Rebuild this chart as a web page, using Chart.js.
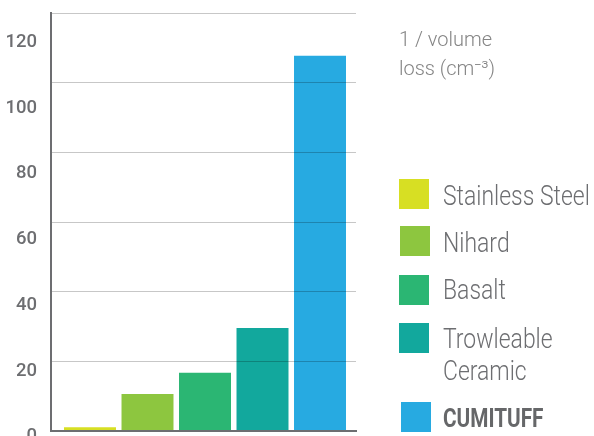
<!DOCTYPE html>
<html><head><meta charset="utf-8">
<script src="https://cdn.jsdelivr.net/npm/chart.js@4"></script>
<style>
html,body{margin:0;padding:0;background:#fff;}
#wrap{position:relative;width:594px;height:436px;overflow:hidden;}
#c{position:absolute;left:0;top:0;}
.t{position:absolute;white-space:nowrap;font-family:Roboto,'DejaVu Sans',sans-serif;transform-origin:0 0;}
.box{position:absolute;width:30px;height:30px;}
</style></head><body>
<div id="wrap"><canvas id="c" width="594" height="436"></canvas><div id="legend"></div></div>
<script>
// ---- data ----
const categories = ['Stainless Steel', 'Nihard', 'Basalt', 'Trowleable\nCeramic', 'CUMITUFF'];
const values = [1.1, 10.6, 16.7, 29.6, 107.7];
const colors = ['#d7df23', '#8dc63f', '#2bb673', '#12a89d', '#27aae1'];
const tickLabels = [0, 20, 40, 60, 80, 100, 120];
const axisTitle = ['1 / volume', 'loss (cm⁻³)'];

// ---- legend layout ----
const legendBoxTop = [179, 226, 275, 323, 402];
const legendBoxLeft = [399, 400, 399, 399, 401];
const legendBaseline = [205, 252, 299, 348, 428];

const legend = document.getElementById('legend');
function addText(html, left, top, css) {
  const d = document.createElement('div');
  d.className = 't';
  d.innerHTML = html;
  d.style.left = left + 'px';
  d.style.top = top + 'px';
  Object.assign(d.style, css);
  legend.appendChild(d);
}
addText(axisTitle.join('<br>'), 399, 46 - 21.3, {fontSize:'20px', lineHeight:'29px', fontWeight:'300', color:'#858585'});
categories.forEach((c, i) => {
  const b = document.createElement('div');
  b.className = 'box';
  b.style.left = legendBoxLeft[i] + 'px';
  b.style.top = legendBoxTop[i] + 'px';
  b.style.background = colors[i];
  legend.appendChild(b);
  const last = i === categories.length - 1;
  if (last) {
    addText(c, 443, legendBaseline[i] - 24.55, {fontSize:'25px', lineHeight:'32px', fontWeight:'700', color:'#666769', transform:'scaleX(0.83)'});
  } else {
    addText(c.split('\n').join('<br>'), 443, legendBaseline[i] - 25.2, {fontSize:'27px', lineHeight:'32px', fontWeight:'300', color:'#6d6e71', transform:'scaleX(0.85)'});
  }
});

new Chart(document.getElementById('c'), {
  type: 'bar',
  data: {
    datasets: [{
      data: values.map((v, i) => ({x: i + 1, y: v})),
      backgroundColor: colors,
      borderWidth: 0,
      barPercentage: 0.904,
      categoryPercentage: 1
    }]
  },
  options: {
    responsive: false,
    animation: false,
    layout: {padding: {left: 0, top: 13, right: 238, bottom: 5}},
    plugins: {legend: {display: false}, tooltip: {enabled: false}},
    scales: {
      x: {
        type: 'linear', min: 0.3217, max: 5.626, offset: false,
        ticks: {display: false},
        grid: {display: false},
        border: {display: true, color: '#6d6e71', width: 2, z: 2},
        afterBuildTicks: s => { s.ticks = categories.map((_, i) => ({value: i + 1})); },
        afterFit: s => { s.height = 0; }
      },
      y: {
        type: 'linear', position: 'left', weight: 0, min: 0, max: 120,
        ticks: {display: false, stepSize: 20},
        grid: {color: 'rgba(0,0,0,0.22)', lineWidth: 1, z: 1, drawTicks: false},
        border: {display: true, color: '#6d6e71', width: 2, z: 2},
        afterFit: s => { s.width = 0; }
      },
      y2: {
        type: 'linear', axis: 'y', position: 'left', weight: 1, min: 1.7, max: 128.95,
        grid: {display: false, drawTicks: false},
        border: {display: false},
        ticks: {padding: 14, color: '#6d6e71', font: {family: 'Roboto', size: 18.5, weight: '500'}},
        afterBuildTicks: s => { s.ticks = tickLabels.map(v => ({value: v})); },
        afterFit: s => { s.width = 51; s.paddingTop = 0; s.paddingBottom = 0; }
      }
    }
  }
});
</script>
</body></html>
